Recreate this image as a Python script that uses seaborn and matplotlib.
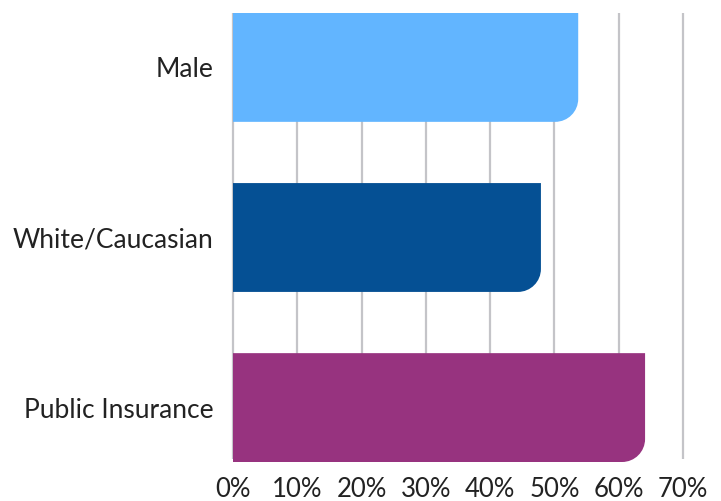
import matplotlib
matplotlib.use("Agg")
import matplotlib.pyplot as plt
import seaborn as sns
import pandas as pd
from matplotlib.path import Path
from matplotlib.patches import PathPatch

categories = ["Male", "White/Caucasian", "Public Insurance"]
values = [53.7, 47.9, 64.1]
colors = ["#62B5FF", "#055094", "#97337F"]
xticks = [0, 10, 20, 30, 40, 50, 60, 70]
xtick_labels = ["0%", "10%", "20%", "30%", "40%", "50%", "60%", "70%"]

sns.set_theme(style="white")
plt.rcParams["font.family"] = ["Lato", "DejaVu Sans"]

df = pd.DataFrame({"cat": categories, "val": values})

fig = plt.figure(figsize=(7.21, 5.01), dpi=100)
W, H = 721, 501
ax = fig.add_axes([233 / W, 1 - 462 / H, (683 - 233) / W, (462 - 13) / H])

bw = 0.64
sns.barplot(data=df, y="cat", x="val", hue="cat", palette=colors, legend=False,
            width=bw, ax=ax, orient="h", saturation=1)

ax.set_xlim(0, 70)
ax.set_ylim(2 + bw / 2, -bw / 2)

# rounded bottom-right corners
rpx = 23
px_per_x = (683 - 233) / 70
px_per_y = (462 - 13) / (2 + bw)
rx = rpx / px_per_x
ry = rpx / px_per_y
k = 0.5523
for p in list(ax.patches):
    x0, y0 = p.get_x(), p.get_y()
    w, h = p.get_width(), p.get_height()
    x1 = x0 + w
    ytop, ybot = y0, y0 + h  # ybot is lower on screen (inverted axis)
    fc = p.get_facecolor()
    verts = [(x0, ytop), (x1, ytop), (x1, ybot - ry),
             (x1, ybot - ry + k * ry), (x1 - rx + k * rx, ybot), (x1 - rx, ybot),
             (x0, ybot), (x0, ytop)]
    codes = [Path.MOVETO, Path.LINETO, Path.LINETO,
             Path.CURVE4, Path.CURVE4, Path.CURVE4,
             Path.LINETO, Path.CLOSEPOLY]
    p.remove()
    ax.add_patch(PathPatch(Path(verts, codes), facecolor=fc, edgecolor="none", zorder=2))

for xv in xticks:
    ax.plot([xv, xv], [-bw / 2, 2 + bw / 2 - 0.02], color="#C4C4C8", lw=1.6, zorder=1,
            solid_capstyle="butt", clip_on=False)

ax.set_xticks(xticks)
ax.set_xticklabels(xtick_labels)
ax.set_xlabel("")
ax.set_ylabel("")
ax.tick_params(axis="both", length=0, labelcolor="#222222")
ax.tick_params(axis="x", pad=11, labelsize=18.5)
ax.tick_params(axis="y", pad=14, labelsize=19)
for s in ax.spines.values():
    s.set_visible(False)
ax.grid(False)

fig.savefig("out.png", dpi=100)
